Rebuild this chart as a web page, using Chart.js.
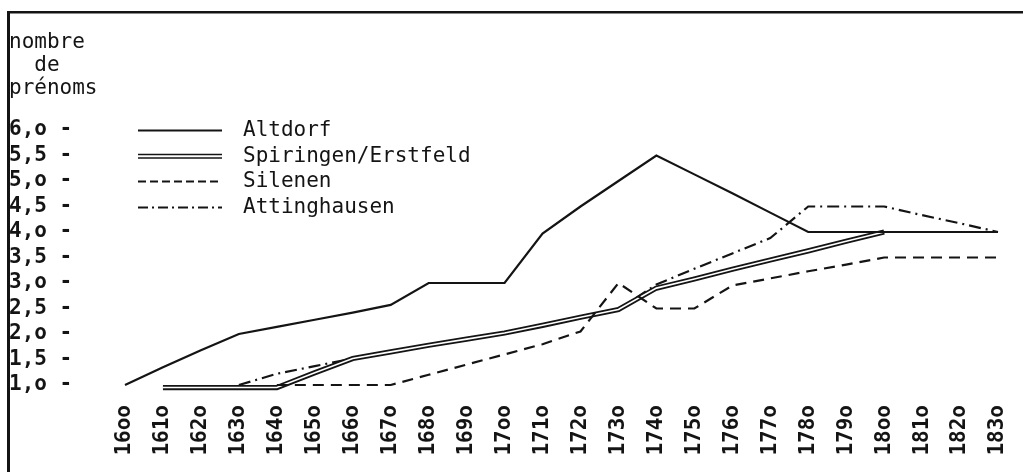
<!DOCTYPE html>
<html>
<head>
<meta charset="utf-8">
<script src="https://cdn.jsdelivr.net/npm/chart.js@4.4.0/dist/chart.umd.min.js"></script>
<style>
  html, body { margin: 0; padding: 0; background: #fff; }
  canvas { display: block; }
</style>
</head>
<body>
<canvas id="prenoms" width="1023" height="472"></canvas>
<script>
// decades, typed the way the typewriter did it (o instead of 0)
const decadeLabels = ['16oo', '161o', '162o', '163o', '164o', '165o', '166o', '167o', '168o', '169o',
  '17oo', '171o', '172o', '173o', '174o', '175o', '176o', '177o', '178o', '179o',
  '18oo', '181o', '182o', '183o'];

const seriesNames = ['Altdorf', 'Spiringen/Erstfeld', 'Silenen', 'Attinghausen'];

const altdorf = [1.0, 1.35, 1.68, 2.0, 2.14, 2.28, 2.42, 2.57, 3.0, 3.0,
  3.0, 3.97, 4.5, 5.0, 5.5, 5.13, 4.76, 4.38, 4.0, 4.0,
  4.0, 4.0, 4.0, 4.0];

const spiringen = [null, 0.95, 0.95, 0.95, 0.95, 1.24, 1.52, 1.65, 1.78, 1.9,
  2.02, 2.17, 2.33, 2.48, 2.9, 3.08, 3.27, 3.45, 3.63, 3.82,
  4.0, null, null, null];

const silenen = [null, null, null, null, 1.0, 1.0, 1.0, 1.0, 1.2, 1.4,
  1.6, 1.8, 2.05, 3.0, 2.5, 2.5, 2.95, 3.09, 3.23, 3.36,
  3.5, 3.5, 3.5, 3.5];

const attinghausen = [null, null, null, 1.0, 1.22, 1.37, 1.52, 1.65, 1.78, 1.9,
  2.02, 2.17, 2.33, 2.48, 2.97, 3.28, 3.58, 3.88, 4.5, 4.5,
  4.5, 4.33, 4.17, 4.0];

const yTitle = ['nombre', '  de', 'prénoms'];

const INK = '#141414';
const MONO = '"DejaVu Sans Mono", "Liberation Mono", monospace';

const DASH = [11, 7];
const DASH_DOT = [12, 5, 2, 5];

// frame + title + the little typed legend
const paperPlugin = {
  id: 'paper',
  beforeDraw(chart) {
    const ctx = chart.ctx;
    ctx.save();
    ctx.fillStyle = '#fff';
    ctx.fillRect(0, 0, chart.width, chart.height);
    ctx.fillStyle = INK;
    ctx.fillRect(7, 11, chart.width - 7, 2.5);
    ctx.fillRect(7, 11, 3, chart.height - 11);
    ctx.restore();
  },
  afterDraw(chart) {
    const ctx = chart.ctx;
    const y = chart.scales.y;
    ctx.save();
    ctx.fillStyle = INK;
    ctx.font = '21px ' + MONO;
    ctx.textBaseline = 'middle';
    ctx.textAlign = 'left';
    yTitle.forEach((t, i) => ctx.fillText(t, 9, 43 + i * 23));

    const x0 = 138, x1 = 222;
    seriesNames.forEach((name, i) => {
      const py = Math.round(y.getPixelForValue(6 - i * 0.5)) + 0.5;
      ctx.strokeStyle = INK;
      ctx.setLineDash([]);
      if (i === 1) {
        ctx.lineWidth = 1.5;
        ctx.beginPath(); ctx.moveTo(x0, py - 2); ctx.lineTo(x1, py - 2); ctx.stroke();
        ctx.beginPath(); ctx.moveTo(x0, py + 1.5); ctx.lineTo(x1, py + 1.5); ctx.stroke();
      } else {
        ctx.lineWidth = 2;
        if (i === 2) ctx.setLineDash([8, 4]);
        if (i === 3) ctx.setLineDash([10, 4, 2, 4]);
        ctx.beginPath(); ctx.moveTo(x0, py); ctx.lineTo(x1, py); ctx.stroke();
      }
      ctx.fillText(name, 243, py);
    });
    ctx.restore();
  }
};

const lineBase = {
  pointRadius: 0,
  tension: 0,
  clip: false,
  spanGaps: false,
  borderColor: INK,
  borderCapStyle: 'butt',
  borderJoinStyle: 'miter'
};

new Chart(document.getElementById('prenoms'), {
  type: 'line',
  data: {
    labels: decadeLabels,
    datasets: [
      { ...lineBase, label: seriesNames[0], data: altdorf, borderWidth: 2.2, order: 0 },
      { ...lineBase, label: seriesNames[2], data: silenen, borderWidth: 2.2, borderDash: DASH, order: 1 },
      { ...lineBase, label: seriesNames[1] + ' (inner)', data: spiringen, borderWidth: 1.6, borderColor: '#fff', order: 3 },
      { ...lineBase, label: seriesNames[1], data: spiringen, borderWidth: 5.2, order: 4 },
      { ...lineBase, label: seriesNames[3], data: attinghausen, borderWidth: 2.2, borderDash: DASH_DOT, order: 5 }
    ]
  },
  options: {
    responsive: false,
    animation: false,
    layout: { padding: { top: 130, left: 9, right: 25, bottom: 0 } },
    plugins: {
      legend: { display: false },
      tooltip: { enabled: false },
      title: { display: false }
    },
    scales: {
      x: {
        grid: { display: false, drawTicks: false },
        border: { display: false },
        ticks: {
          color: INK,
          font: { family: MONO, size: 21, weight: 'bold' },
          minRotation: 90,
          maxRotation: 90,
          padding: 20,
          autoSkip: false
        },
        afterFit(scale) {
          scale.height = 87;
          scale.paddingLeft = 0;
          scale.paddingRight = 0;
        }
      },
      y: {
        min: 1,
        max: 6,
        grid: { display: false, drawTicks: false },
        border: { display: false },
        ticks: {
          stepSize: 0.5,
          autoSkip: false,
          color: INK,
          crossAlign: 'far',
          font: { family: MONO, size: 21, weight: 'bold' },
          callback: (v) => v.toFixed(1).replace('.', ',').replace(',0', ',o') + ' -'
        },
        afterFit(scale) { scale.width = 116; }
      }
    }
  },
  plugins: [paperPlugin]
});
</script>
</body>
</html>
